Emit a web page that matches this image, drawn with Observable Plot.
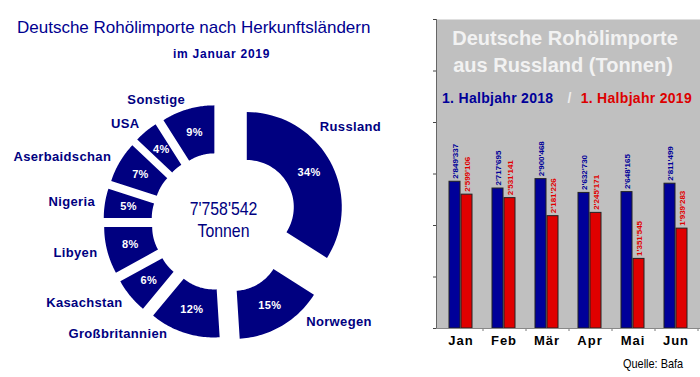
<!DOCTYPE html>
<html><head><meta charset="utf-8">
<script src="https://cdn.jsdelivr.net/npm/d3@7"></script>
<script src="https://cdn.jsdelivr.net/npm/@observablehq/plot@0.6"></script>
<style>
body{margin:0;background:#fff;font-family:"Liberation Sans",Arial,sans-serif;}
#wrap{position:relative;width:700px;height:377px;overflow:hidden;background:#fff;}
.abs{position:absolute;white-space:nowrap;line-height:1;}
#left,#right{position:absolute;top:0;}
#left{left:0;} #right{left:420px;}
#left svg g[aria-label="text"] text{letter-spacing:0.35px;}
#right svg g[aria-label="x-axis tick label"] text{letter-spacing:1px;}
</style></head><body>
<div id="wrap">
  <div id="left"></div>
  <div id="right"></div>
  <div class="abs" style="left:17px;top:18.6px;font-size:17px;color:#000090;">Deutsche Rohölimporte nach Herkunftsländern</div>
  <div class="abs" style="left:173px;top:47.8px;font-size:12px;font-weight:bold;letter-spacing:0.75px;color:#000090;">im Januar 2019</div>
  <div class="abs" style="left:433px;width:264px;text-align:center;top:28px;font-size:20px;font-weight:bold;color:#f2f2f2;">Deutsche Rohölimporte</div>
  <div class="abs" style="left:431px;width:264px;text-align:center;top:55px;font-size:20px;font-weight:bold;color:#f2f2f2;">aus Russland (Tonnen)</div>
  <div class="abs" style="left:442px;top:91px;font-size:14px;font-weight:bold;letter-spacing:0.3px;"><span style="color:#000099">1. Halbjahr 2018</span><span style="color:#eeeeee;margin-left:14px;margin-right:9px;">/</span><span style="color:#dd0000">1. Halbjahr 2019</span></div>
  <div class="abs" style="left:623px;top:357px;font-size:13px;color:#000;transform:scaleX(0.84);transform-origin:0 0;">Quelle: Bafa</div>
</div>
<script>
// ---- data ----
const countries = ["Russland","Norwegen","Großbritannien","Kasachstan","Libyen","Nigeria","Aserbaidschan","USA","Sonstige"];
const shares = [34,15,12,6,8,5,7,4,9];
const totalTonnes = 7758542;
const totalUnit = "Tonnen";
const months = ["Jan","Feb","Mär","Apr","Mai","Jun"];
const imports2018 = [2849337,2717695,2900468,2632730,2648165,2811499];
const imports2019 = [2599106,2531141,2181226,2245171,1351545,1939283];

const fmt = v => d3.format(",")(v).replace(/,/g,"'");
const NAVY = "#000080";

// ---- donut ----
const R = 95, r = 47, baseExplode = 22;
const explode = {Russland:30, Norwegen:26};
const pie = d3.pie().sort(null).value(d=>d.share)(countries.map((c,i)=>({name:c, share:shares[i]})));
const pts = [];
const sl = pie.map(s=>{
  const mid = (s.startAngle+s.endAngle)/2;
  const off = explode[s.data.name] ?? baseExplode;
  const ox = off*Math.sin(mid), oy = off*Math.cos(mid);
  const n = 40;
  for(let k=0;k<=n;k++){const a=s.startAngle+(s.endAngle-s.startAngle)*k/n; pts.push({name:s.data.name,x:ox+R*Math.sin(a),y:oy+R*Math.cos(a)});}
  for(let k=n;k>=0;k--){const a=s.startAngle+(s.endAngle-s.startAngle)*k/n; pts.push({name:s.data.name,x:ox+r*Math.sin(a),y:oy+r*Math.cos(a)});}
  const pr = (R+r)/2 + off, L = 127;
  return {name:s.data.name, share:s.data.share, mid,
    px: pr*Math.sin(mid), py: pr*Math.cos(mid),
    lx: L*Math.sin(mid), ly: L*Math.cos(mid),
    anchor: mid > Math.PI ? "end" : "start"};
});
const nudge = {Russland:[-12,-33], Norwegen:[21,-9], "Großbritannien":[-14,-8]};
const centerFont = {fill:NAVY, fontSize:18};

const left = Plot.plot({
  width:420, height:377, margin:0,
  style:{background:"transparent", fontFamily:"'Liberation Sans',Arial,sans-serif", overflow:"visible"},
  x:{domain:[-220,200], range:[0,420], axis:null},
  y:{domain:[-156,221], range:[377,0], axis:null},
  marks:[
    Plot.line(pts,{x:"x",y:"y",z:"name",fill:NAVY,stroke:"none",curve:"linear-closed"}),
    Plot.text(sl,{x:"px",y:"py",text:d=>d.share+"%",fill:"white",fontWeight:"bold",fontSize:11}),
    ...["start","end"].map(an=>Plot.text(sl.filter(d=>d.anchor===an),{
      x:d=>d.lx + (nudge[d.name]?.[0]??0), y:d=>d.ly - (nudge[d.name]?.[1]??0),
      text:"name", textAnchor:an, fill:NAVY, fontWeight:"bold", fontSize:13})),
    Plot.text([fmt(totalTonnes)],{x:()=>3,y:()=>0,text:d=>d,dy:-12,...centerFont}),
    Plot.text([totalUnit],{x:()=>3,y:()=>0,text:d=>d,dy:10,...centerFont})
  ]
});
// narrow the centre total like a condensed face
d3.select(left).selectAll("text").filter(function(){return this.textContent===fmt(totalTonnes)||this.textContent===totalUnit;})
  .each(function(){const t=this.getAttribute("transform")||""; this.setAttribute("transform", t+" scale(0.88,1)"); this.style.letterSpacing="0px";});
document.getElementById("left").append(left);

// ---- bars ----
const rows18 = months.map((m,i)=>({month:m,value:imports2018[i]}));
const rows19 = months.map((m,i)=>({month:m,value:imports2019[i]}));
const right = Plot.plot({
  width:280, height:377, marginLeft:16, marginRight:0, marginTop:19, marginBottom:49,
  style:{background:"transparent", fontFamily:"'Liberation Sans',Arial,sans-serif", color:"black"},
  x:{domain:months, paddingInner:0.4545, paddingOuter:0.2273, label:null},
  y:{domain:[0,6e6], label:null},
  marks:[
    Plot.frame({fill:"#c0c0c0", stroke:"none"}),
    Plot.axisY({ticks:d3.range(0,6e6+1,1e6), tickFormat:()=>"", tickSize:3, stroke:"#444"}),
    Plot.barY(rows18,{x:"month",y:"value",fill:"#000099",stroke:"#222",strokeWidth:1,insetRight:12}),
    Plot.barY(rows19,{x:"month",y:"value",fill:"#e00000",stroke:"#222",strokeWidth:1,insetLeft:12}),
    Plot.text(rows18,{x:"month",y:"value",text:d=>fmt(d.value),rotate:-90,textAnchor:"start",dx:-6,dy:-3,fill:"#000099",fontSize:8,fontWeight:"bold"}),
    Plot.text(rows19,{x:"month",y:"value",text:d=>fmt(d.value),rotate:-90,textAnchor:"start",dx:6,dy:-3,fill:"#e00000",fontSize:8,fontWeight:"bold"}),
    Plot.axisX({tickSize:3, tickFormat:()=>"", dx:22, stroke:"#777"}),
    Plot.axisX({tickSize:0, tickPadding:7, fontSize:13, fontWeight:"bold"}),
    Plot.frame({anchor:"left", stroke:"#666"}),
    Plot.frame({anchor:"bottom", stroke:"#888"})
  ]
});
document.getElementById("right").append(right);
</script>
</body></html>
